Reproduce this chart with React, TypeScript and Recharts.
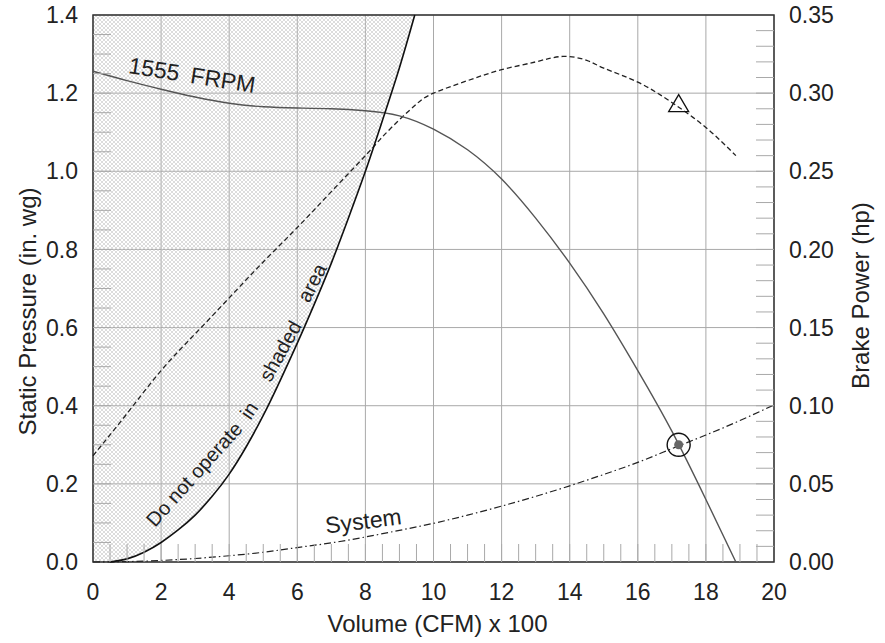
import React from 'react';
import {
  ComposedChart,
  Line,
  Area,
  Scatter,
  XAxis,
  YAxis,
  CartesianGrid,
  ReferenceArea,
  ReferenceDot,
} from 'recharts';

// axis ticks
const volumeTicks = [0, 2, 4, 6, 8, 10, 12, 14, 16, 18, 20];
const pressureTicks = [0, 0.2, 0.4, 0.6, 0.8, 1.0, 1.2, 1.4];
const powerTicks = [0, 0.05, 0.1, 0.15, 0.2, 0.25, 0.3, 0.35];
const volumeMinorTicks = [
  0.5, 1, 1.5, 2, 2.5, 3, 3.5, 4, 4.5, 5, 5.5, 6, 6.5, 7, 7.5, 8, 8.5, 9, 9.5, 10,
  10.5, 11, 11.5, 12, 12.5, 13, 13.5, 14, 14.5, 15, 15.5, 16, 16.5, 17, 17.5, 18, 18.5, 19, 19.5,
];
const pressureMinorTicks = [
  0.05, 0.1, 0.15, 0.2, 0.25, 0.3, 0.35, 0.4, 0.45, 0.5, 0.55, 0.6, 0.65, 0.7,
  0.75, 0.8, 0.85, 0.9, 0.95, 1.0, 1.05, 1.1, 1.15, 1.2, 1.25, 1.3, 1.35,
];
const powerMinorTicks = [
  0.01, 0.02, 0.03, 0.04, 0.05, 0.06, 0.07, 0.08, 0.09, 0.1, 0.11, 0.12, 0.13, 0.14, 0.15, 0.16, 0.17,
  0.18, 0.19, 0.2, 0.21, 0.22, 0.23, 0.24, 0.25, 0.26, 0.27, 0.28, 0.29, 0.3, 0.31, 0.32, 0.33, 0.34,
];

// 1555 FRPM fan curve (in. wg)
const fanVolume = [0, 1, 2, 3, 4, 5, 6, 7, 8, 9, 10, 11, 12, 13, 14, 15, 16, 17, 18, 18.88];
const fanPressure = [1.256, 1.232, 1.21, 1.19, 1.174, 1.165, 1.162, 1.16, 1.155, 1.142, 1.108, 1.055, 0.98, 0.88, 0.765, 0.635, 0.49, 0.335, 0.16, 0];

// brake power (hp, right axis)
const powerVolume = [0, 1, 2, 3, 4, 5, 6, 7, 8, 8.5, 9, 9.5, 10, 11, 12, 13, 13.8, 14.5, 15, 16, 17, 18, 18.88];
const powerHp = [0.068, 0.095, 0.1225, 0.146, 0.169, 0.192, 0.214, 0.237, 0.26, 0.272, 0.283, 0.293, 0.3, 0.308, 0.315, 0.32, 0.3235, 0.321, 0.316, 0.307, 0.294, 0.278, 0.26];

// system curve
const systemVolume = [0, 1, 2, 3, 4, 5, 6, 7, 8, 9, 10, 11, 12, 13, 14, 15, 16, 17, 18, 19, 20];
const systemPressure = [0, 0.001, 0.004, 0.009, 0.016, 0.025, 0.037, 0.049, 0.064, 0.081, 0.099, 0.12, 0.143, 0.168, 0.195, 0.224, 0.255, 0.29, 0.325, 0.362, 0.402];

// "do not operate" boundary
const boundaryVolume = [0, 0.5, 1, 1.5, 2, 2.5, 3, 3.5, 4, 4.5, 5, 5.5, 6, 6.5, 7, 7.5, 8, 8.5, 9, 9.45];
const boundaryPressure = [0, 0, 0.008, 0.025, 0.05, 0.082, 0.12, 0.168, 0.225, 0.295, 0.375, 0.465, 0.56, 0.66, 0.765, 0.88, 1.0, 1.13, 1.265, 1.4];

// operating point + rated power marker
const opVolume = [17.2];
const opPressure = [0.3];
const opPower = [0.292];

const annotations = [
  { text: '1555\u2002FRPM', x: 2.91, y: 1.246, angle: 9, size: 23 },
  { text: 'System', x: 7.94, y: 0.105, angle: -7, size: 23 },
  { text: 'Do not operate', x: 2.97, y: 0.225, angle: -48, size: 20 },
  { text: 'in', x: 4.58, y: 0.388, angle: -56, size: 20 },
  { text: 'shaded', x: 5.5, y: 0.54, angle: -61, size: 20 },
  { text: 'area', x: 6.43, y: 0.715, angle: -63, size: 20 },
];

const toRows = (xs: number[], ys: number[]) => xs.map((x, i) => ({ x, y: ys[i] }));
const fanData = toRows(fanVolume, fanPressure);
const powerData = toRows(powerVolume, powerHp);
const systemData = toRows(systemVolume, systemPressure);
const boundaryLine = toRows(boundaryVolume, boundaryPressure).slice(1);
const boundaryBand = boundaryVolume.map((x, i) => ({ x, band: [boundaryPressure[i], 1.4] }));
const opData = toRows(opVolume, opPressure);
const ratedData = toRows(opVolume, opPower);

const FONT = '"Liberation Sans", Arial, Helvetica, sans-serif';
const INK = '#222';
const GRID = '#a9a9a9';

const EmptyTick = () => <g />;

const yTitle = (vb: any, text: string, dx: number, dy: number) => {
  const cx = vb.x + dx;
  const cy = vb.y + vb.height / 2 + dy;
  return (
    <text x={cx} y={cy} transform={`rotate(-90 ${cx} ${cy})`} textAnchor="middle"
      dominantBaseline="central" fontSize={24} fill={INK} fontFamily={FONT}>
      {text}
    </text>
  );
};

const OpMarker = (p: any) => (
  <g>
    <circle cx={p.cx} cy={p.cy} r={11.5} fill="none" stroke="#111" strokeWidth={1.4} />
    <circle cx={p.cx} cy={p.cy} r={4.5} fill="#666" />
  </g>
);

const Triangle = (p: any) => (
  <polygon
    points={`${p.cx},${p.cy - 11} ${p.cx - 10},${p.cy + 6} ${p.cx + 10},${p.cy + 6}`}
    fill="none" stroke="#111" strokeWidth={1.3} />
);

export default function App() {
  return (
    <div style={{ position: 'absolute', left: 0, top: 0, fontFamily: FONT, background: '#fff' }}>
      <ComposedChart width={885} height={643} margin={{ top: 15, right: 0, bottom: 0, left: 0 }}>
        <defs>
          <pattern id="hatch" width="4" height="4" patternUnits="userSpaceOnUse">
            <path d="M0,0 L4,4 M4,0 L0,4" stroke="#c4c4c4" strokeWidth={0.6} />
          </pattern>
        </defs>
        <CartesianGrid yAxisId="L" stroke={GRID} strokeWidth={1} />

        <XAxis xAxisId="xm" dataKey="x" type="number" domain={[0, 20]} allowDataOverflow ticks={volumeMinorTicks}
          height={1} mirror tickSize={18} tick={EmptyTick} axisLine={false} tickLine={{ stroke: GRID }} interval={0} />
        <XAxis dataKey="x" type="number" domain={[0, 20]} ticks={volumeTicks} interval={0}
          height={81} tickSize={0} tickMargin={22} axisLine={false} tickLine={false}
          tick={{ fill: INK, fontSize: 23 }}
          label={{ value: 'Volume (CFM) x 100', position: 'insideBottom', offset: 11, dx: 4, fill: INK, fontSize: 24 }} />

        <YAxis yAxisId="Lm" type="number" domain={[0, 1.4]} allowDataOverflow ticks={pressureMinorTicks} width={1}
          mirror tickSize={18} tick={EmptyTick} axisLine={false} tickLine={{ stroke: GRID }} interval={0} />
        <YAxis yAxisId="L" type="number" domain={[0, 1.4]} ticks={pressureTicks} interval={0}
          width={93} tickSize={0} tickMargin={15} axisLine={false} tickLine={false}
          tickFormatter={(v: number) => v.toFixed(1)} tick={{ fill: INK, fontSize: 23 }}
          label={(p: any) => yTitle(p.viewBox, 'Static Pressure (in. wg)', 27, 23)} />

        <YAxis yAxisId="Rm" orientation="right" type="number" domain={[0, 0.35]} allowDataOverflow ticks={powerMinorTicks}
          width={1} mirror tickSize={18} tick={EmptyTick} axisLine={false} tickLine={{ stroke: GRID }} interval={0} />
        <YAxis yAxisId="R" orientation="right" type="number" domain={[0, 0.35]} ticks={powerTicks} interval={0}
          width={111} tickSize={0} tickMargin={15} axisLine={false} tickLine={false}
          tickFormatter={(v: number) => v.toFixed(2)} tick={{ fill: INK, fontSize: 23 }}
          label={(p: any) => yTitle(p.viewBox, 'Brake Power (hp)', 86, 7)} />

        <Area data={boundaryBand} dataKey="band" yAxisId="L" type="natural" stroke="none"
          fill="url(#hatch)" fillOpacity={1} isAnimationActive={false} />

        <Line data={systemData} dataKey="y" yAxisId="L" type="natural" stroke="#222" strokeWidth={1.2}
          strokeDasharray="7 3 1.5 3" dot={false} isAnimationActive={false} />
        <Line data={powerData} dataKey="y" yAxisId="R" type="natural" stroke="#222" strokeWidth={1.3}
          strokeDasharray="5 3" dot={false} isAnimationActive={false} />
        <Line data={fanData} dataKey="y" yAxisId="L" type="natural" stroke="#555" strokeWidth={1.4}
          dot={false} isAnimationActive={false} />
        <Line data={boundaryLine} dataKey="y" yAxisId="L" type="natural" stroke="#111" strokeWidth={1.6}
          dot={false} isAnimationActive={false} />

        <Scatter data={opData} dataKey="y" yAxisId="L" shape={OpMarker} isAnimationActive={false} />
        <Scatter data={ratedData} dataKey="y" yAxisId="R" shape={Triangle} isAnimationActive={false} />

        <ReferenceArea x1={0} x2={20} y1={0} y2={1.4} yAxisId="L" fill="none" stroke="#333"
          strokeWidth={1.5} ifOverflow="visible" />

        {annotations.map((a) => (
          <ReferenceDot key={a.text} x={a.x} y={a.y} yAxisId="L" r={0}
            shape={(p: any) => (
              <text x={p.cx} y={p.cy} transform={`rotate(${a.angle} ${p.cx} ${p.cy})`} textAnchor="middle"
                dominantBaseline="central" fontSize={a.size} fill={INK} fontFamily={FONT}>
                {a.text}
              </text>
            )} />
        ))}
      </ComposedChart>
    </div>
  );
}
